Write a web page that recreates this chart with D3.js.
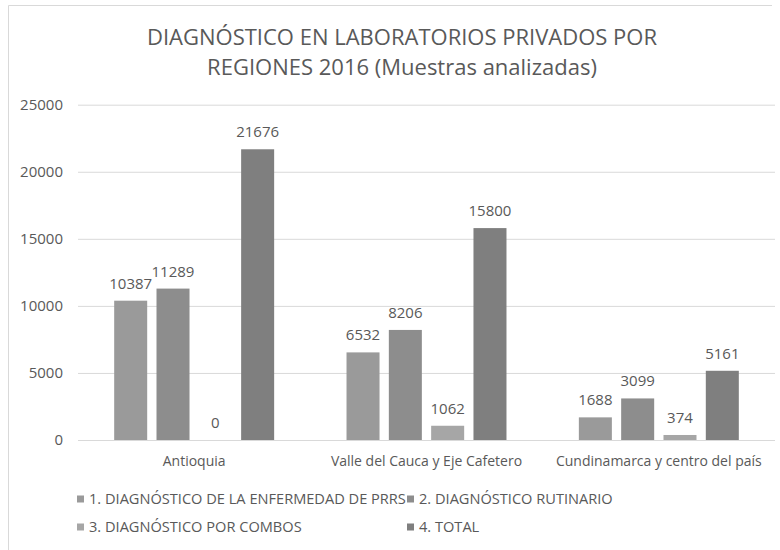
<!DOCTYPE html>
<meta charset="utf-8">
<head>
  <title>Diagnóstico en laboratorios privados por regiones 2016</title>
</head>

<style>
body {
  margin: 0;
  background: #fff;
}
text {
  font-family: "Open Sans", sans-serif;
  fill: #595959;
}
.grid line {
  stroke: #d9d9d9;
}
</style>

<body>
  <svg width="780" height="550"></svg>

  <script src="https://cdn.jsdelivr.net/npm/d3@7"></script>
  <script>
var regions = ['Antioquia', 'Valle del Cauca y Eje Cafetero', 'Cundinamarca y centro del país'];
var series = [
  '1. DIAGNÓSTICO DE LA ENFERMEDAD DE PRRS',
  '2. DIAGNÓSTICO RUTINARIO',
  '3. DIAGNÓSTICO POR COMBOS',
  '4. TOTAL'
];
var prrs = [10387, 6532, 1688];
var rutinario = [11289, 8206, 3099];
var combos = [0, 1062, 374];
var total = [21676, 15800, 5161];
var yTicks = [0, 5000, 10000, 15000, 20000, 25000];
var colors = ['#9a9a9a', '#8d8d8d', '#a6a6a6', '#7f7f7f'];

var values = [prrs, rutinario, combos, total];

var svg = d3.select('svg');

// frame of the chart area (left and top edges are visible)
svg.append('line')
  .attr('x1', 8.5).attr('x2', 8.5).attr('y1', 5.5).attr('y2', 550)
  .style('stroke', '#d9d9d9');
svg.append('line')
  .attr('x1', 8.5).attr('x2', 772).attr('y1', 5.5).attr('y2', 5.5)
  .style('stroke', '#d9d9d9');

var title = svg.append('text')
  .attr('text-anchor', 'middle')
  .style('font-size', '22px');
title.append('tspan').attr('x', 402).attr('y', 45)
  .text('DIAGNÓSTICO EN LABORATORIOS PRIVADOS POR');
title.append('tspan').attr('x', 402).attr('y', 75)
  .text('REGIONES 2016 (Muestras analizadas)');

var plotLeft = 78, plotRight = 775, plotTop = 104.7, plotBottom = 440;

var x0 = d3.scaleBand()
  .domain(regions)
  .range([plotLeft, plotRight]);

var x1 = d3.scaleBand()
  .domain(series)
  .range([0, x0.bandwidth()])
  .paddingInner(0.22)
  .paddingOuter(0.855);

var y = d3.scaleLinear()
  .domain([0, 25000])
  .range([plotBottom, plotTop]);

var yAxis = svg.append('g')
  .attr('class', 'grid')
  .attr('transform', 'translate(' + plotLeft + ',0)')
  .call(d3.axisLeft(y)
    .tickValues(yTicks)
    .tickSize(-(plotRight - plotLeft))
    .tickPadding(15)
    .tickFormat(d3.format('d')));
yAxis.select('.domain').remove();
yAxis.selectAll('text')
  .style('font-size', '15px')
  .style('font-family', '"Open Sans", sans-serif')
  .style('fill', '#595959');

var groups = svg.selectAll('g.region')
  .data(regions)
  .enter()
  .append('g')
  .attr('class', 'region')
  .attr('transform', function(d) { return 'translate(' + x0(d) + ',0)'; });

var bars = groups.selectAll('g.bar')
  .data(function(d, i) {
    return series.map(function(s, j) { return {series: s, value: values[j][i], idx: j}; });
  })
  .enter()
  .append('g')
  .attr('class', 'bar');

bars.append('rect')
  .attr('x', function(d) { return x1(d.series); })
  .attr('y', function(d) { return y(d.value); })
  .attr('width', x1.bandwidth())
  .attr('height', function(d) { return y(0) - y(d.value); })
  .style('fill', function(d) { return colors[d.idx]; });

bars.append('text')
  .attr('x', function(d) { return x1(d.series) + x1.bandwidth() / 2; })
  .attr('y', function(d) { return y(d.value) - 12; })
  .attr('text-anchor', 'middle')
  .style('font-size', '15px')
  .text(function(d) { return d.value; });

svg.selectAll('text.cat')
  .data(regions)
  .enter()
  .append('text')
  .attr('class', 'cat')
  .attr('x', function(d) { return x0(d) + x0.bandwidth() / 2; })
  .attr('y', 466)
  .attr('text-anchor', 'middle')
  .style('font-size', '14px')
  .text(function(d) { return d; });

// legend, two per row
var legend = svg.selectAll('g.legend')
  .data(series)
  .enter()
  .append('g')
  .attr('class', 'legend')
  .attr('transform', function(d, i) {
    return 'translate(' + (i % 2 === 0 ? 77 : 407) + ',' + (i < 2 ? 499 : 527) + ')';
  });

legend.append('rect')
  .attr('x', 0)
  .attr('y', -3.5)
  .attr('width', 7)
  .attr('height', 7)
  .style('fill', function(d, i) { return colors[i]; });

legend.append('text')
  .attr('x', 12)
  .attr('y', 5)
  .style('font-size', '14.6px')
  .text(function(d) { return d; });
  </script>
</body>
</html>
